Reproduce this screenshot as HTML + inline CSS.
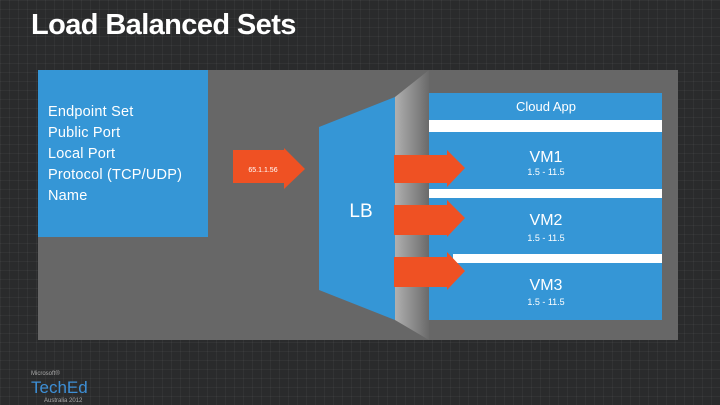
<!DOCTYPE html>
<html><head><style>
body{margin:0;width:720px;height:405px;overflow:hidden;background:#2a2b2c;font-family:"Liberation Sans",sans-serif;position:relative}
.bg{position:absolute;inset:0;background-image:linear-gradient(rgba(255,255,255,.04) 1px,transparent 1px),linear-gradient(90deg,rgba(255,255,255,.04) 1px,transparent 1px);background-size:9px 9px}
.a{position:absolute}
</style></head><body>
<div class="bg"></div>
<div class="a" style="left:31px;top:9px;color:#fff;font-size:29px;font-weight:bold;letter-spacing:-0.6px">Load Balanced Sets</div>
<div class="a" style="left:38px;top:70px;width:640px;height:270px;background:#676767"></div>
<div class="a" style="left:38px;top:70px;width:170px;height:167px;background:#3596d6"></div>
<div class="a" style="left:48px;top:102px;color:#fff;font-size:14.5px;line-height:21px;letter-spacing:0.2px">Endpoint Set<br>Public Port<br>Local Port<br>Protocol (TCP/UDP)<br>Name</div>
<svg class="a" style="left:0;top:0" width="720" height="405">
<defs><linearGradient id="g" x1="0" x2="1"><stop offset="0" stop-color="#b0b0b0"/><stop offset="1" stop-color="#6a6a6a"/></linearGradient></defs>
<polygon points="395,97 429,70 429,340 395,320" fill="url(#g)"/>
<polygon points="319,127 395,97 395,320 319,290" fill="#3596d6"/>
<rect x="429" y="93" width="233" height="227" fill="#3596d6"/>
<rect x="429" y="120" width="233" height="12" fill="#fff"/>
<rect x="429" y="189" width="233" height="9" fill="#fff"/>
<rect x="453" y="254" width="209" height="9" fill="#fff"/>
<polygon points="233,150 284,150 284,148 305,169 284,189 284,183 233,183" fill="#ef5123"/>
<polygon points="394,155 447,155 447,150 465,168 447,187 447,183 394,183" fill="#ef5123"/>
<polygon points="394,205 447,205 447,200 465,218 447,237 447,235 394,235" fill="#ef5123"/>
<polygon points="394,257 447,257 447,252 465,271 447,290 447,287 394,287" fill="#ef5123"/>
<g fill="#fff" font-family="Liberation Sans" text-anchor="middle">
<text x="546" y="111" font-size="13">Cloud App</text>
<text x="546" y="162" font-size="16">VM1</text><text x="546" y="175" font-size="9">1.5 - 11.5</text>
<text x="546" y="225" font-size="16">VM2</text><text x="546" y="241" font-size="9">1.5 - 11.5</text>
<text x="546" y="290" font-size="16">VM3</text><text x="546" y="305" font-size="9">1.5 - 11.5</text>
<text x="361" y="217" font-size="19">LB</text>
<text x="263" y="172" font-size="7">65.1.1.56</text>
</g>
<g font-family="Liberation Sans">
<text x="31" y="375" font-size="6" fill="#aaa">Microsoft®</text>
<text x="31" y="393" font-size="17" fill="#3d8fd6">TechEd</text>
<text x="44" y="402" font-size="6" fill="#aaa">Australia 2012</text>
</g>
</svg>
</body></html>
